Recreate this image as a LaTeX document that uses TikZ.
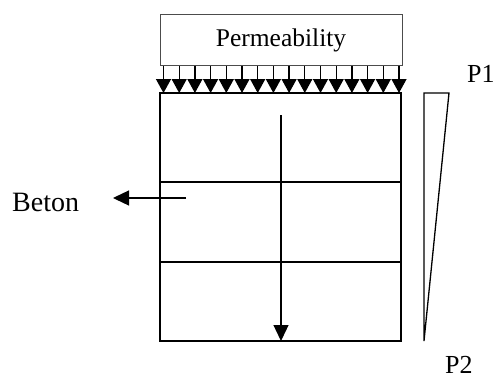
\documentclass[tikz,border=0pt]{standalone}
\usepackage{fontspec}
\setmainfont{Liberation Serif}
\usetikzlibrary{arrows.meta}
\begin{document}
\begin{tikzpicture}[x=1pt,y=-1pt,
  lbl/.style={font=\fontsize{26}{30}\selectfont, inner sep=0pt},
  frame/.style={draw=black, line width=1.8pt},
  flux/.style={line width=1.3pt, -{Triangle[width=15pt,length=14pt]}},
  bigflux/.style={line width=1.3pt, -{Triangle[width=15pt,length=16pt]}}]
\useasboundingbox (0,0) rectangle (496,378);
% top label box
\node[draw=black!70, line width=0.8pt, minimum width=242pt, minimum height=51pt,
      inner sep=0pt, font=\fontsize{25.5}{29}\selectfont] (perm) at (281,40) {Permeability};
% concrete specimen with two horizontal divisions
\draw[frame] (160,93) rectangle (401,341);
\draw[frame] (160,182) -- (401,182);
\draw[frame] (160,262) -- (401,262);
% row of inflow arrows under the box
\foreach \i in {0,...,15}{
  \coordinate (s\i) at ({163.5+\i*15.7},66);
  \coordinate (e\i) at ({163.5+\i*15.7},93);
  \draw[flux] (s\i) -- (e\i);
}
% flow through the specimen
\coordinate (fa) at (281,115);
\coordinate (fb) at (281,341);
\draw[bigflux] (fa) -- (fb);
% label arrow
\coordinate (la) at (186,198);
\coordinate (lb) at (113,198);
\draw[bigflux] (la) -- (lb);
\node[lbl, font=\fontsize{28}{32}\selectfont, anchor=base west] (beton) at (12,211) {Beton};
% pressure gradient
\draw[line width=1.3pt, line join=miter] (424,341) -- (424,93) -- (449,93) -- cycle;
\node[lbl, anchor=base west] (p1) at (467,82) {P1};
\node[lbl, anchor=base west] (p2) at (445,373) {P2};
\end{tikzpicture}
\end{document}
